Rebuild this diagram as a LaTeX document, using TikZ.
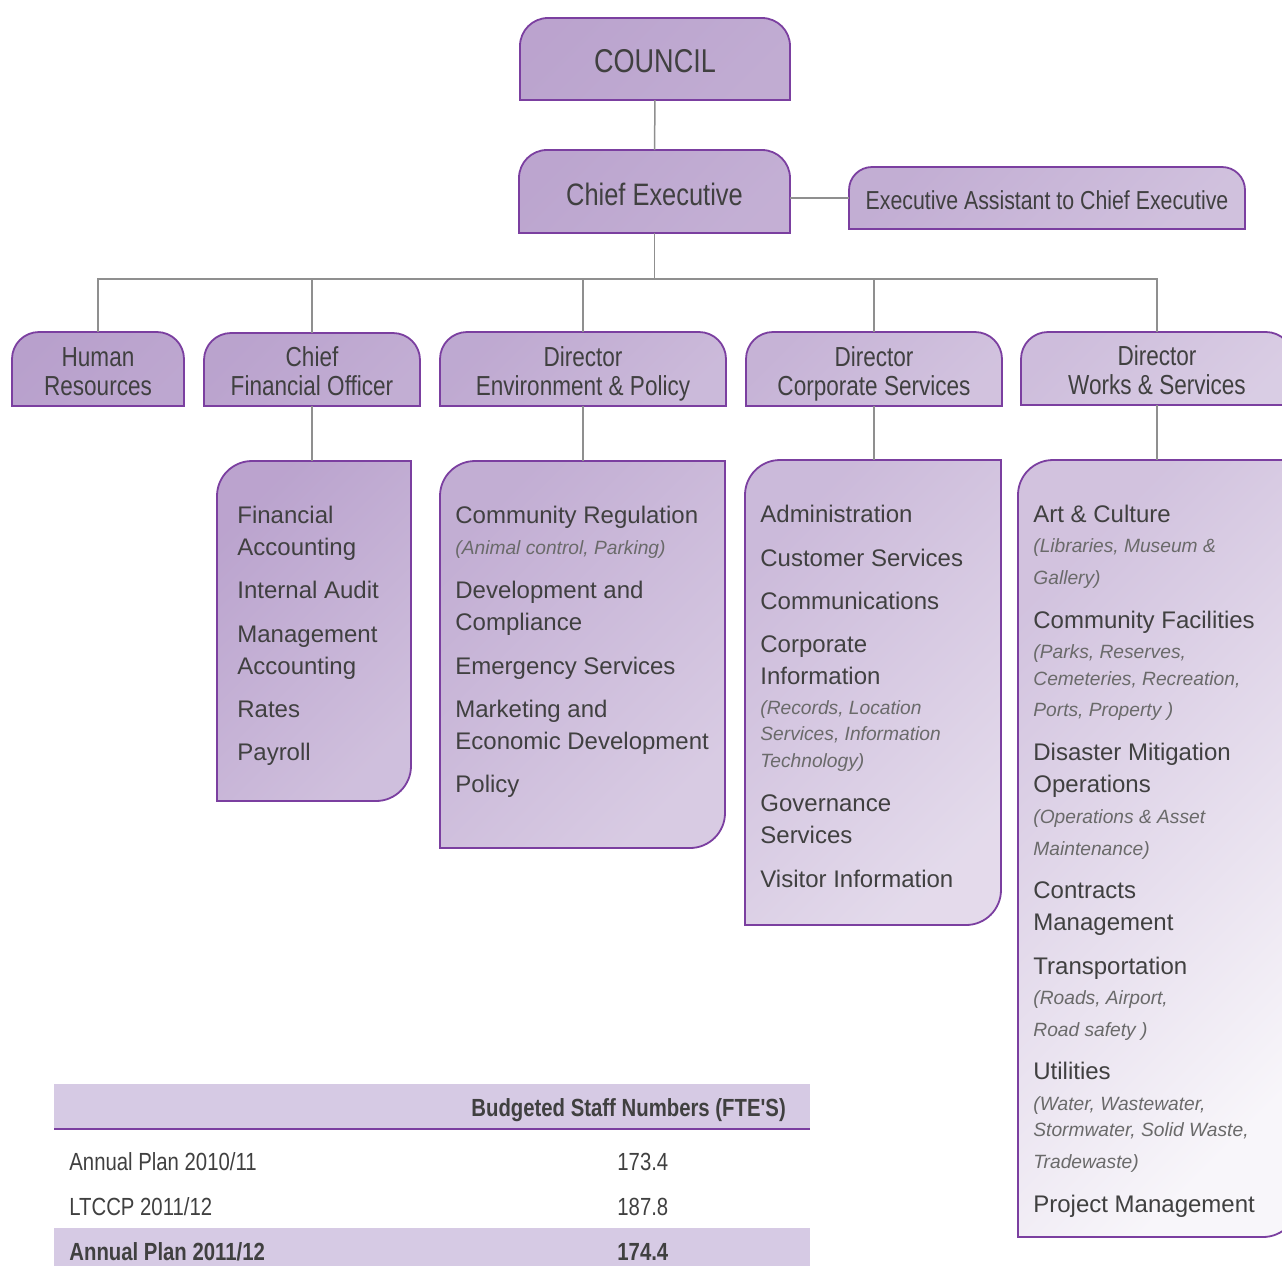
\documentclass[tikz,border=0pt]{standalone}
\usepackage{fontspec}
\setmainfont{Liberation Sans}
\newfontfamily\narrowfont[FakeStretch=0.82]{Liberation Sans}
\usetikzlibrary{calc,backgrounds}

\definecolor{orgdark}{HTML}{B8A0CC}
\definecolor{orglight}{HTML}{F8F6FA}
\definecolor{orgline}{HTML}{7B3FA0}
\definecolor{linkgray}{HTML}{8F8F8F}
\definecolor{textgray}{HTML}{404040}
\definecolor{subgray}{HTML}{6A6A6A}
\definecolor{bandfill}{HTML}{D6CAE4}

\tikzset{
  orgbox/.style 2 args={rectangle, inner sep=0pt, outer sep=0pt, align=center,
    text=textgray, minimum width=#1, minimum height=#2},
  headtext/.style={font=\narrowfont\fontsize{13.75}{14.5}\selectfont,
    text height=26.4pt, text depth=0pt},
  itemtext/.style={anchor=base west, inner sep=0pt, text=textgray,
    font=\fontsize{12}{14}\selectfont},
  subtext/.style={anchor=base west, inner sep=0pt, text=subgray,
    font=\itshape\fontsize{9.6}{12}\selectfont},
  tabletext/.style={anchor=base west, inner sep=0pt, text=textgray,
    font=\narrowfont\fontsize{12.4}{14}\selectfont},
  link/.style={draw=linkgray, line width=0.75pt},
  boxline/.style={draw=orgline, line width=0.9pt}
}

% box with the two top corners rounded
\newcommand{\tophead}[4]{%
  \path[boxline, top color=orglight!#3!orgdark, bottom color=orglight!#4!orgdark, shading angle=45]
    (#1.south west) -- ($(#1.north west)+(0,-#2)$) arc[start angle=180, end angle=90, radius=#2]
    -- ($(#1.north east)+(-#2,0)$) arc[start angle=90, end angle=0, radius=#2]
    -- (#1.south east) -- cycle;}
% box with top left and bottom right corners rounded
\newcommand{\listhead}[4]{%
  \path[boxline, top color=orglight!#3!orgdark, bottom color=orglight!#4!orgdark, shading angle=45]
    (#1.north east) -- ($(#1.south east)+(0,#2)$) arc[start angle=0, end angle=-90, radius=#2]
    -- (#1.south west) -- ($(#1.north west)+(0,-#2)$) arc[start angle=180, end angle=90, radius=#2]
    -- cycle;}

\begin{document}
\begin{tikzpicture}[x=0.5pt, y=0.5pt]
\useasboundingbox (0,0) rectangle (1282,-1266);

% top of the chart
\node[orgbox={135pt}{41pt}, font=\narrowfont\fontsize{16.5}{18}\selectfont,
  text height=13.8pt, text depth=0pt] (council) at (655,-59) {COUNCIL};
\node[orgbox={135.5pt}{41.5pt}, font=\narrowfont\fontsize{15.5}{17}\selectfont,
  text height=13.5pt, text depth=0pt] (ceo) at (654.5,-191.5) {Chief Executive};
\node[orgbox={198pt}{31pt}, font=\narrowfont\fontsize{13}{15}\selectfont,
  text height=11.3pt, text depth=0pt] (ea) at (1047,-198) {Executive Assistant to Chief Executive};

% departments
\node[orgbox={86pt}{37pt}, headtext] (hr) at (98,-369) {Human\\Resources};
\node[orgbox={108pt}{36.5pt}, headtext] (cfo) at (312,-369.5) {Chief\\Financial Officer};
\node[orgbox={143pt}{37pt}, headtext] (env) at (583,-369) {Director\\Environment \& Policy};
\node[orgbox={128pt}{37pt}, headtext] (corp) at (874,-369) {Director\\Corporate Services};
\node[orgbox={136pt}{36.5pt}, headtext] (works) at (1157,-368.5) {Director\\Works \& Services};

% activity lists
\node[orgbox={97pt}{170pt}] (cfo-list) at (314,-631) {};
\node[orgbox={142.5pt}{193.5pt}] (env-list) at (582.5,-654.5) {};
\node[orgbox={128pt}{232.5pt}] (corp-list) at (873,-692.5) {};
\node[orgbox={140pt}{388.5pt}] (works-list) at (1158,-848.5) {};

\begin{scope}[on background layer]
  \tophead{council}{28}{4}{14}
  \tophead{ceo}{28}{6}{18}
  \tophead{ea}{23}{16}{38}
  \tophead{hr}{27}{0}{8}
  \tophead{cfo}{27}{3}{16}
  \tophead{env}{27}{10}{30}
  \tophead{corp}{27}{22}{40}
  \tophead{works}{27}{34}{52}
  \listhead{cfo-list}{35}{4}{36}
  \listhead{env-list}{35}{16}{50}
  \listhead{corp-list}{35}{30}{68}
  \listhead{works-list}{35}{40}{100}
\end{scope}

% connectors
\coordinate (bus) at ($(ceo.south)+(0,-46)$);
\draw[link] (council.south) -- (ceo.north);
\draw[link] (ceo.east |- ea.west) -- (ea.west);
\draw[link] (ceo.south) -- (bus);
\foreach \d in {hr,cfo,env,corp,works}
  \draw[link] (bus) -| (\d.north);
\foreach \d in {cfo,env,corp,works}
  \draw[link] (\d.south) -- (\d.south |- \d-list.north);

% list texts
\foreach \y/\t/\s [count=\i] in {523/Financial/itemtext, 555/Accounting/itemtext,
    598.5/Internal Audit/itemtext, 642.5/Management/itemtext, 674.5/Accounting/itemtext,
    717.5/Rates/itemtext, 760.5/Payroll/itemtext}
  \node[\s] (cfo-item\i) at (237,-\y) {\t};
\foreach \y/\t/\s [count=\i] in {523.5/Community Regulation/itemtext,
    554/{(Animal control, Parking)}/subtext, 598.5/Development and/itemtext,
    630.5/Compliance/itemtext, 674.5/Emergency Services/itemtext, 717.5/Marketing and/itemtext,
    749.5/Economic Development/itemtext, 792.5/Policy/itemtext}
  \node[\s] (env-item\i) at (455,-\y) {\t};
\foreach \y/\t/\s [count=\i] in {522.5/Administration/itemtext, 566.5/Customer Services/itemtext,
    609.5/Communications/itemtext, 652.5/Corporate/itemtext, 684.5/Information/itemtext,
    714/{(Records, Location}/subtext, 740/{Services, Information}/subtext, 767/Technology)/subtext,
    811.5/Governance/itemtext, 843.5/Services/itemtext, 887.5/Visitor Information/itemtext}
  \node[\s] (corp-item\i) at (760,-\y) {\t};
\foreach \y/\t/\s [count=\i] in {522.5/Art \& Culture/itemtext, 552/(Libraries{,} Museum \&/subtext,
    584/Gallery)/subtext, 628.5/Community Facilities/itemtext, 658/{(Parks, Reserves,}/subtext,
    685/{Cemeteries, Recreation,}/subtext, 716/{Ports, Property )}/subtext,
    760.5/Disaster Mitigation/itemtext, 792.5/Operations/itemtext, 823/(Operations \& Asset/subtext,
    855/Maintenance)/subtext, 898.5/Contracts/itemtext, 930.5/Management/itemtext,
    974.5/Transportation/itemtext, 1004/{(Roads, Airport,}/subtext, 1036/Road safety )/subtext,
    1079.5/Utilities/itemtext, 1110/{(Water, Wastewater,}/subtext,
    1136/{Stormwater, Solid Waste,}/subtext, 1168/Tradewaste)/subtext,
    1212.5/Project Management/itemtext}
  \node[\s] (works-item\i) at (1033,-\y) {\t};

% staff numbers table
\fill[bandfill] (54,-1084) rectangle (810,-1129);
\draw[orgline, line width=0.6pt] (54,-1129) -- (810,-1129);
\fill[bandfill] (54,-1228) rectangle (810,-1266);
\node[tabletext, font=\narrowfont\bfseries\fontsize{12.4}{14}\selectfont] (fte-head) at (471,-1116) {Budgeted Staff Numbers (FTE'S)};
\node[tabletext] (plan1011) at (69,-1170) {Annual Plan 2010/11};
\node[tabletext] (plan1011-fte) at (617,-1170) {173.4};
\node[tabletext] (ltccp) at (69,-1215) {LTCCP 2011/12};
\node[tabletext] (ltccp-fte) at (617,-1215) {187.8};
\node[tabletext, font=\narrowfont\bfseries\fontsize{12.4}{14}\selectfont] (plan1112) at (69,-1260) {Annual Plan 2011/12};
\node[tabletext, font=\narrowfont\bfseries\fontsize{12.4}{14}\selectfont] (plan1112-fte) at (617,-1260) {174.4};
\end{tikzpicture}
\end{document}
